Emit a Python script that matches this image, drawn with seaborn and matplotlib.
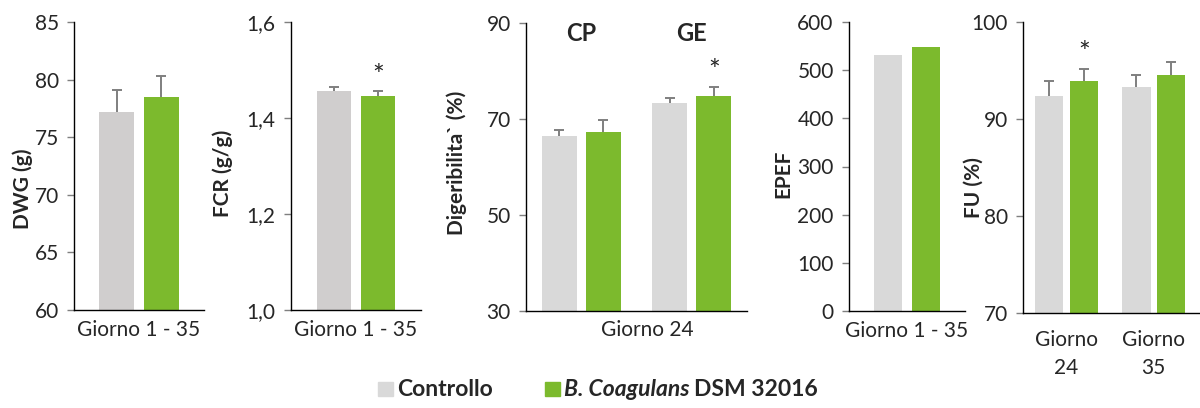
import matplotlib
matplotlib.use("Agg")
import matplotlib.pyplot as plt
import seaborn as sns
import pandas as pd
from matplotlib.patches import Rectangle
from matplotlib.ticker import FuncFormatter

# data
groups = ["Controllo", "B. Coagulans DSM 32016"]
period = ["Giorno 1 - 35"]

dwg = [77.2, 78.5]
dwg_sd = [1.9, 1.8]

fcr = [1.456, 1.446]
fcr_sd = [0.009, 0.010]
fcr_sig = [True]

nutr = ["CP", "GE"]
dig_ctrl = [66.5, 73.3]
dig_ctrl_sd = [1.2, 1.1]
dig_bc = [67.3, 74.8]
dig_bc_sd = [2.5, 1.9]
dig_sig = [False, True]

epef = [531, 548]

days = ["Giorno\n24", "Giorno\n35"]
fu_ctrl = [92.4, 93.3]
fu_ctrl_sd = [1.5, 1.2]
fu_bc = [93.9, 94.5]
fu_bc_sd = [1.3, 1.4]
fu_sig = [True, False]

gray1 = "#D0CECE"
gray2 = "#D9D9D9"
green = "#7CBA2D"
errc = "#7F7F7F"

sns.set_style("white")
plt.rcParams["font.family"] = ["Lato", "DejaVu Sans"]
plt.rcParams["font.size"] = 15
plt.rcParams["axes.labelsize"] = 15

fig = plt.figure(figsize=(12, 4.08), dpi=100)
W, H = 1200, 408


def box(l, r, t, b):
    return [l / W, (H - b) / H, (r - l) / W, (b - t) / H]


def panel(ax, cats, ctrl, bc, ctrl_sd, bc_sd, sig, gray, gap):
    df = pd.DataFrame({
        "cat": cats * 2,
        "group": [groups[0]] * len(cats) + [groups[1]] * len(cats),
        "val": ctrl + bc,
    })
    sns.barplot(data=df, x="cat", y="val", hue="group", hue_order=groups,
                palette=[gray, green], saturation=1, width=0.8, gap=gap,
                errorbar=None, legend=False, ax=ax, linewidth=0)
    for j, (vals, sd) in enumerate([(ctrl, ctrl_sd), (bc, bc_sd)]):
        if sd is None:
            continue
        xs = [i + (j - 0.5) * 0.4 for i in range(len(cats))]
        eb = ax.errorbar(xs, vals, yerr=[[0] * len(sd), sd], fmt="none",
                         ecolor=errc, elinewidth=1.4, capsize=3.5,
                         capthick=1.4, zorder=3)
        for cl in eb[1]:
            if list(cl.get_ydata()) == list(vals):
                cl.set_visible(False)
        if j == 1 and sig is not None:
            for x, y, s, flag in zip(xs, vals, sd, sig):
                if flag:
                    ax.annotate("*", (x, y + s), xytext=(0, 1),
                                textcoords="offset points", ha="center",
                                va="bottom", fontsize=20)
    sns.despine(ax=ax)
    for sp in ["left", "bottom"]:
        ax.spines[sp].set_color("black")
        ax.spines[sp].set_linewidth(1)
    ax.tick_params(axis="y", direction="out", length=5, width=1,
                   color=errc, pad=6, left=True)
    ax.tick_params(axis="x", length=0, pad=7)
    ax.set_xlabel("")


# DWG
ax1 = fig.add_axes(box(74, 204, 22, 310))
panel(ax1, period, dwg[:1], dwg[1:], dwg_sd[:1], dwg_sd[1:], None, gray1, 0.22)
ax1.set_ylim(60, 85)
ax1.set_yticks(range(60, 86, 5))
ax1.set_xlim(-0.58, 0.58)
ax1.set_ylabel("DWG (g)", fontweight="bold")
ax1.yaxis.set_label_coords(-0.315, 0.42)

# FCR
ax2 = fig.add_axes(box(291, 421, 22, 310))
panel(ax2, period, fcr[:1], fcr[1:], fcr_sd[:1], fcr_sd[1:], fcr_sig, gray1, 0.23)
ax2.set_ylim(1.0, 1.6)
ax2.set_yticks([1.0, 1.2, 1.4, 1.6])
ax2.yaxis.set_major_formatter(FuncFormatter(lambda v, p: f"{v:.1f}".replace(".", ",")))
ax2.set_xlim(-0.59, 0.59)
ax2.set_ylabel("FCR (g/g)", fontweight="bold")
ax2.yaxis.set_label_coords(-0.446, 0.476)

# Digeribilita
ax3 = fig.add_axes(box(526, 747, 23, 311))
panel(ax3, nutr, dig_ctrl, dig_bc, dig_ctrl_sd, dig_bc_sd, dig_sig, gray2, 0.21)
ax3.set_ylim(30, 90)
ax3.set_yticks([30, 50, 70, 90])
ax3.set_xlim(-0.5, 1.5)
ax3.set_xticks([0, 1])
ax3.set_xticklabels(["", ""])
for i, n in enumerate(nutr):
    ax3.text(i, 0.965, n, transform=ax3.get_xaxis_transform(), ha="center",
             va="center", fontweight="bold", fontsize=17)
ax3.set_xlabel("Giorno 24", labelpad=6)
ax3.xaxis.set_label_coords(0.55, -0.03)
ax3.xaxis.label.set_va("top")
ax3.set_ylabel("Digeribilita` (%)", fontweight="bold")
ax3.yaxis.set_label_coords(-0.267, 0.514)

# EPEF
ax4 = fig.add_axes(box(849, 965, 22, 311))
panel(ax4, period, epef[:1], epef[1:], None, None, None, gray2, 0.24)
ax4.set_ylim(0, 600)
ax4.set_yticks(range(0, 601, 100))
ax4.set_xlim(-0.61, 0.61)
ax4.set_ylabel("EPEF", fontweight="bold")
ax4.yaxis.set_label_coords(-0.48, 0.474)

# FU
ax5 = fig.add_axes(box(1023, 1199, 22, 313))
panel(ax5, days, fu_ctrl, fu_bc, fu_ctrl_sd, fu_bc_sd, fu_sig, gray2, 0.18)
ax5.set_ylim(70, 100)
ax5.set_yticks([70, 80, 90, 100])
ax5.set_xlim(-0.5, 1.52)
for t in ax5.get_xticklabels():
    t.set_linespacing(1.5)
ax5.tick_params(axis="x", pad=12)
ax5.set_ylabel("FU (%)", fontweight="bold")
ax5.yaxis.set_label_coords(-0.225, 0.43)

# legend drawn by hand (mixed italic / upright bold text)
fig.add_artist(Rectangle((378 / W, (H - 396) / H), 15 / W, 14 / H,
                         transform=fig.transFigure, color=gray2))
fig.add_artist(Rectangle((545 / W, (H - 396) / H), 15 / W, 14 / H,
                         transform=fig.transFigure, color=green))
ty = (H - 389) / H
fig.text(397 / W, ty, groups[0], fontweight="bold", fontsize=16.5, va="center")
t_it = fig.text(564 / W, ty, "B. Coagulans", fontweight="bold", style="italic",
                fontsize=16.5, va="center")
fig.canvas.draw()
bb = t_it.get_window_extent(fig.canvas.get_renderer())
fig.text(bb.x1 / W + 5 / W, ty, "DSM 32016", fontweight="bold", fontsize=16.5,
         va="center")

fig.savefig("out.png", dpi=100)
